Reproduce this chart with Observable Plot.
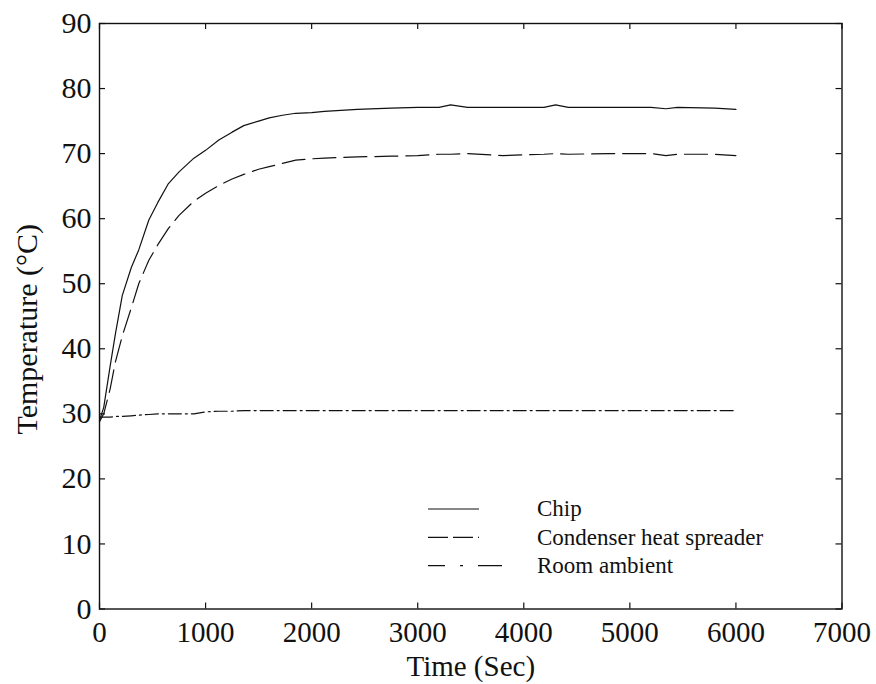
<!DOCTYPE html>
<html>
<head>
<meta charset="utf-8">
<script src="https://cdn.jsdelivr.net/npm/d3@7"></script>
<script src="https://cdn.jsdelivr.net/npm/@observablehq/plot@0.6"></script>
<style>
  html, body { margin: 0; padding: 0; background: #fff; }
  #chart svg { display: block; }
</style>
</head>
<body>
<div id="chart"></div>
<script>
// ---- data ----
const time = [0, 40, 100, 150, 215, 300, 370, 465, 550, 650, 750, 890, 1000, 1125, 1250, 1360, 1500, 1600, 1725, 1850, 2000, 2120, 2430, 2750, 3000, 3200, 3310, 3470, 3800, 4190, 4300, 4420, 4800, 5200, 5340, 5450, 5800, 6000];
const chip = [29, 31, 37.3, 42.3, 48.2, 52.5, 55.2, 59.8, 62.5, 65.4, 67.2, 69.3, 70.5, 72.1, 73.3, 74.3, 75.0, 75.5, 75.9, 76.2, 76.3, 76.5, 76.8, 77.0, 77.1, 77.1, 77.5, 77.1, 77.1, 77.1, 77.5, 77.1, 77.1, 77.1, 76.9, 77.1, 77.0, 76.8];
const condenser = [28.8, 30, 33.8, 38, 42, 46.3, 50, 53.6, 56, 58.5, 60.5, 62.7, 63.9, 65.1, 66.1, 66.8, 67.6, 68.0, 68.5, 69.0, 69.2, 69.3, 69.5, 69.6, 69.7, 69.9, 69.9, 70.0, 69.7, 69.9, 70.0, 69.9, 70.0, 70.0, 69.7, 69.9, 69.9, 69.7];
const ambient = [29.5, 29.5, 29.5, 29.6, 29.6, 29.7, 29.8, 29.9, 30.0, 30.0, 30.0, 30.0, 30.3, 30.4, 30.4, 30.5, 30.5, 30.5, 30.5, 30.5, 30.5, 30.5, 30.5, 30.5, 30.5, 30.5, 30.5, 30.5, 30.5, 30.5, 30.5, 30.5, 30.5, 30.5, 30.5, 30.5, 30.5, 30.5];
const seriesNames = ["Chip", "Condenser heat spreader", "Room ambient"];
const xTicks = [0, 1000, 2000, 3000, 4000, 5000, 6000, 7000];
const yTicks = [0, 10, 20, 30, 40, 50, 60, 70, 80, 90];
const xLabel = "Time (Sec)";
const yLabel = "Temperature (°C)";

// ---- styles ----
const dashes = [null, "23,8", "13,4,2,4"];
const legendDashes = [null, "20,5", "17,15,3,15,24"];
const W = 876, H = 684;
const mL = 99, mR = 34.5, mT = 23, mB = 75.5;
const plotW = W - mL - mR, plotH = H - mT - mB;
const font = "Liberation Serif";

const seriesValues = [chip, condenser, ambient];
const rows = seriesNames.flatMap((name, i) =>
  time.map((t, j) => ({ series: name, t, v: seriesValues[i][j] })));

const lineMarks = seriesNames.map((name, i) =>
  Plot.line(rows.filter(d => d.series === name), {
    x: "t", y: "v", stroke: "#111", strokeWidth: 1.2,
    strokeDasharray: dashes[i] ?? undefined
  }));

function legend(index, scales, values, dimensions) {
  const g = d3.create("svg:g");
  const x0 = 428, x1 = 479, tx = 537, y0 = 509, step = 28.3;
  seriesNames.forEach((name, i) => {
    const y = y0 + i * step;
    const ln = g.append("line")
      .attr("x1", x0).attr("x2", i === 2 ? 502 : x1)
      .attr("y1", y).attr("y2", y)
      .attr("stroke", "#111").attr("stroke-width", 1.2);
    if (legendDashes[i]) ln.attr("stroke-dasharray", legendDashes[i]);
    g.append("text")
      .attr("x", tx).attr("y", y)
      .attr("dy", "0.32em")
      .attr("text-anchor", "start")
      .attr("font-size", 23)
      .attr("fill", "#111")
      .text(name);
  });
  return g.node();
}

const chart = Plot.plot({
  width: W, height: H,
  marginLeft: mL, marginRight: mR, marginTop: mT, marginBottom: mB,
  x: { domain: [0, 7000], axis: null },
  y: { domain: [0, 90], axis: null },
  style: { fontFamily: font, fontSize: "29px", color: "#111", background: "#fff" },
  marks: [
    Plot.frame({ stroke: "#111", strokeWidth: 1.4 }),
    Plot.tickX(xTicks, { x: d => d, insetTop: plotH - 6, stroke: "#111", strokeWidth: 1.2 }),
    Plot.tickX(xTicks, { x: d => d, insetBottom: plotH - 6, stroke: "#111", strokeWidth: 1.2 }),
    Plot.tickY(yTicks, { y: d => d, insetRight: plotW - 6, stroke: "#111", strokeWidth: 1.2 }),
    Plot.tickY(yTicks, { y: d => d, insetLeft: plotW - 6, stroke: "#111", strokeWidth: 1.2 }),
    Plot.axisX(xTicks, { anchor: "bottom", tickSize: 0, tickPadding: 12, fontSize: 29, fontFamily: font, label: null, tickFormat: d => String(d) }),
    Plot.axisY(yTicks, { anchor: "left", tickSize: 0, tickPadding: 8, fontSize: 30, fontFamily: font, label: null, tickFormat: d => String(d) }),
    Plot.text([xLabel], { text: d => d, frameAnchor: "bottom", dy: 58, fontSize: 29, fontFamily: font, textAnchor: "middle", lineAnchor: "middle" }),
    Plot.text([yLabel], { text: d => d, frameAnchor: "left", dx: -72, dy: 13, rotate: -90, fontSize: 30, fontFamily: font, textAnchor: "middle", lineAnchor: "middle" }),
    ...lineMarks,
    legend
  ]
});
const sel = d3.select(chart);
sel.attr("font-family", font);
sel.selectAll("text").attr("font-family", font);
document.getElementById("chart").appendChild(chart);
</script>
</body>
</html>
